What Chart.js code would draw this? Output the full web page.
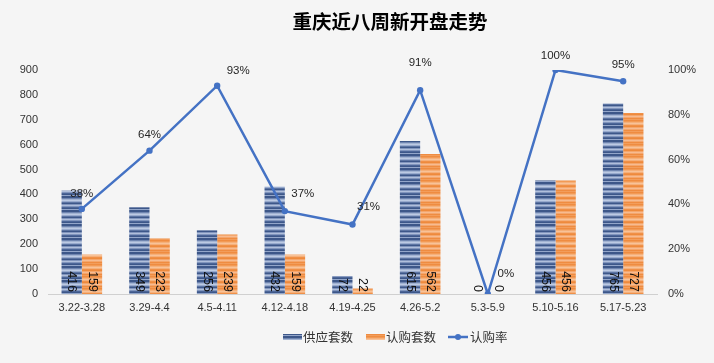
<!DOCTYPE html>
<html><head><meta charset="utf-8">
<script src="https://cdn.jsdelivr.net/npm/chart.js@4/dist/chart.umd.min.js"></script>
<style>html,body{margin:0;padding:0;background:#f5f5f5;}canvas{display:block;}</style>
</head><body>
<canvas id="c" width="714" height="363"></canvas>
<script>
const title = '重庆近八周新开盘走势';
const categories = ['3.22-3.28','3.29-4.4','4.5-4.11','4.12-4.18','4.19-4.25','4.26-5.2','5.3-5.9','5.10-5.16','5.17-5.23'];
const supply = [416,349,256,432,72,615,0,456,765];
const subscribed = [159,223,239,159,22,562,0,456,727];
const rate = [0.38,0.64,0.93,0.37,0.31,0.91,0,1.00,0.95];
const rateLabels = ['38%','64%','93%','37%','31%','91%','0%','100%','95%'];
const leftTicks = [0,100,200,300,400,500,600,700,800,900];
const seriesNames = ['供应套数','认购套数','认购率'];
// label placement styles for rate labels
const rateLabelDx = [0,0,21,18,16,0,18,0,0];
const rateLabelDy = [-15,-16,-15,-17,-18,-27,-20,-14,-16];

const FONT = '"Liberation Sans", "Noto Sans CJK SC", sans-serif';
const CJK = '"Noto Sans CJK SC", "Liberation Sans", sans-serif';

function makePattern(colors){
  const cv = document.createElement('canvas');
  cv.width = 4; cv.height = colors.length;
  const cx = cv.getContext('2d');
  colors.forEach((c,i)=>{cx.fillStyle=c;cx.fillRect(0,i,4,1);});
  return cx.createPattern(cv,'repeat');
}
const bluePat = makePattern(['#3d5789','#3d5789','#6f85b0','#a2b3d2','#bccae3','#98aacd','#5d75a3','#3d5789','#8195bd','#b0bfdb','#8195bd','#4c6698','#3d5789','#93a6ca']);
const orangePat = makePattern(['#ef8c41','#f29a55','#f5b07a','#f8c298','#f5b07a','#f09048','#ee8a3c','#f4a66c','#f7bb90','#f4a66c','#ef8c41','#f29d5b']);

const labelPlugin = {
  id:'labels',
  afterDatasetsDraw(chart){
    const ctx = chart.ctx;
    ctx.save();
    [1,2].forEach(di=>{
      const meta = chart.getDatasetMeta(di);
      const vals = chart.data.datasets[di].data;
      meta.data.forEach((el,i)=>{
        ctx.save();
        ctx.translate(el.x, el.base - 2);
        ctx.rotate(Math.PI/2);
        ctx.font = '12.5px '+FONT;
        ctx.fillStyle = '#111';
        ctx.textAlign = 'right';
        ctx.textBaseline = 'middle';
        ctx.fillText(String(vals[i]), 0, 0);
        ctx.restore();
      });
    });
    const lm = chart.getDatasetMeta(0);
    lm.data.forEach((el,i)=>{
      ctx.font = '11.5px '+FONT;
      ctx.fillStyle = '#262626';
      ctx.textAlign = 'center';
      ctx.textBaseline = 'middle';
      ctx.fillText(rateLabels[i], el.x + rateLabelDx[i], el.y + rateLabelDy[i]);
    });
    ctx.restore();
  },
  afterDraw(chart){
    const ctx = chart.ctx;
    ctx.save();
    ctx.font = 'bold 19.5px '+CJK;
    ctx.fillStyle = '#000';
    ctx.textAlign = 'center';
    ctx.textBaseline = 'middle';
    ctx.fillText(title, 390, 22);
    const ly = 337;
    ctx.font = '12.5px '+CJK;
    ctx.textAlign = 'left';
    ctx.fillStyle = bluePat;
    ctx.fillRect(283, ly-3, 19, 6);
    ctx.fillStyle = '#333';
    ctx.fillText(seriesNames[0], 303, ly);
    ctx.fillStyle = orangePat;
    ctx.fillRect(366, ly-3, 19, 6);
    ctx.fillStyle = '#333';
    ctx.fillText(seriesNames[1], 386, ly);
    ctx.strokeStyle = '#4472c4'; ctx.lineWidth = 2.5;
    ctx.beginPath(); ctx.moveTo(448, ly); ctx.lineTo(468, ly); ctx.stroke();
    ctx.fillStyle = '#4472c4';
    ctx.beginPath(); ctx.arc(458, ly, 3, 0, Math.PI*2); ctx.fill();
    ctx.fillStyle = '#333';
    ctx.fillText(seriesNames[2], 470, ly);
    ctx.restore();
  }
};

const bgPlugin = {
  id:'bg',
  beforeDraw(chart){
    const ctx = chart.ctx;
    ctx.save();
    ctx.fillStyle = '#f5f5f5';
    ctx.fillRect(0,0,chart.width,chart.height);
    ctx.restore();
  }
};

new Chart(document.getElementById('c'), {
  type:'bar',
  data:{
    labels: categories,
    datasets:[
      {type:'line', label:seriesNames[2], data:rate, yAxisID:'y1', borderColor:'#4472c4', backgroundColor:'#4472c4',
       borderWidth:2.5, pointRadius:3.2, pointBackgroundColor:'#4472c4', pointBorderWidth:0, tension:0, order:0},
      {label:seriesNames[0], data:supply, yAxisID:'y', backgroundColor:bluePat, categoryPercentage:0.6, barPercentage:1.0, order:1},
      {label:seriesNames[1], data:subscribed, yAxisID:'y', backgroundColor:orangePat, categoryPercentage:0.6, barPercentage:1.0, order:1}
    ]
  },
  options:{
    responsive:false,
    devicePixelRatio:1,
    animation:false,
    layout:{padding:{top:70,left:0,right:0,bottom:0}},
    plugins:{legend:{display:false}, title:{display:false}, tooltip:{enabled:false}},
    scales:{
      x:{
        grid:{display:false, drawTicks:false},
        border:{display:true, color:'#d0d0d0', width:1},
        ticks:{padding:7, font:{size:11, family:FONT}, color:'#333', maxRotation:0, autoSkip:false},
        afterFit(s){ s.height = 69; }
      },
      y:{
        position:'left', min:0, max:900,
        grid:{display:false, drawTicks:false},
        border:{display:false},
        afterBuildTicks(s){ s.ticks = leftTicks.map(v=>({value:v})); },
        ticks:{padding:10, font:{size:11, family:FONT}, color:'#333'},
        afterFit(s){ s.width = 48; }
      },
      y1:{
        position:'right', min:0, max:1,
        grid:{display:false, drawTicks:false},
        border:{display:false},
        ticks:{stepSize:0.2, padding:11, font:{size:11, family:FONT}, color:'#333', callback:v=>Math.round(v*100)+'%'},
        afterFit(s){ s.width = 57; }
      }
    }
  },
  plugins:[bgPlugin, labelPlugin]
});
</script>
</body></html>
